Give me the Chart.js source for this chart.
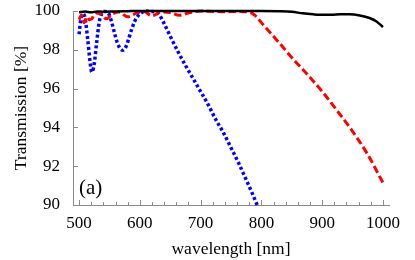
<!DOCTYPE html>
<html>
<head>
<meta charset="utf-8">
<script src="https://cdn.jsdelivr.net/npm/chart.js@4"></script>
<style>
  html, body { margin: 0; padding: 0; background: #fff; }
  #wrap { width: 415px; height: 260px; }
</style>
</head>
<body>
<div id="wrap"><canvas id="c" width="415" height="260"></canvas></div>
<script>
// tick labels
var xTicks = [500, 600, 700, 800, 900, 1000];
var yTicks = [90, 92, 94, 96, 98, 100];

// black solid curve
var blackX = [500, 510, 520, 530, 540, 560, 580, 600, 650, 700, 750, 800, 830, 850, 868, 885, 896, 915, 930, 945, 962, 978, 990, 1000];
var blackY = [99.93, 99.97, 99.93, 99.98, 99.96, 99.98, 99.99, 100, 100, 100, 100, 100, 99.99, 99.96, 99.88, 99.83, 99.81, 99.81, 99.83, 99.83, 99.77, 99.64, 99.45, 99.17];

// red dashed curve
var redX = [500, 504, 508, 513, 517, 521, 527, 535, 545, 555, 565, 580, 595, 607, 620, 635, 650, 665, 680, 700, 720, 740, 760, 775, 785, 792, 800, 814, 831, 850, 875, 900, 925, 950, 975, 1000];
var redY = [99.55, 99.8, 99.4, 99.7, 99.55, 99.6, 99.9, 99.85, 99.6, 99.85, 99.95, 99.7, 99.9, 99.97, 99.75, 99.95, 99.92, 99.78, 99.9, 100, 99.98, 99.96, 99.98, 99.96, 99.88, 99.7, 99.4, 98.9, 98.3, 97.6, 96.75, 95.85, 94.85, 93.8, 92.6, 91.15];

// blue dotted curve
var blueX = [500, 503, 507, 510, 514, 518, 521, 525, 529, 533, 537, 542, 548, 553, 558, 563, 568, 572, 577, 582, 587, 592, 597, 603, 610, 618, 626, 632, 640, 650, 662, 675, 688, 700, 712, 725, 738, 750, 762, 775, 785, 793];
var blueY = [98.8, 99.6, 99.85, 99.6, 98.6, 97.4, 96.85, 97.3, 98.4, 99.4, 99.85, 99.98, 99.9, 99.5, 98.9, 98.35, 98.05, 97.98, 98.15, 98.6, 99.1, 99.5, 99.75, 99.92, 100, 99.98, 99.95, 99.8, 99.35, 98.7, 97.95, 97.2, 96.5, 95.85, 95.2, 94.4, 93.7, 92.95, 92.2, 91.3, 90.6, 90.0];

function pts(xs, ys) {
    return xs.map(function(x, i) { return { x: x, y: ys[i] }; });
}

var serif = '"Liberation Serif", "DejaVu Serif", serif';
var axisColor = '#8a8a8a';

// inward tick marks, minor ticks and the panel label
var decor = {
    id: 'decor',
    afterDraw: function(chart) {
        var ctx = chart.ctx;
        var xs = chart.scales.x, ys = chart.scales.y;
        var y0 = ys.getPixelForValue(90);
        var x0 = xs.left;
        ctx.save();
        ctx.strokeStyle = axisColor;
        ctx.lineWidth = 1;
        ctx.beginPath();
        for (var v = 500; v <= 1000; v += 20) {
            var px = Math.round(xs.getPixelForValue(v)) + 0.5;
            var len = (v % 100 === 0) ? 5 : 3;
            ctx.moveTo(px, y0);
            ctx.lineTo(px, y0 - len);
        }
        yTicks.forEach(function(w) {
            var py = Math.round(ys.getPixelForValue(w)) + 0.5;
            ctx.moveTo(x0, py);
            ctx.lineTo(x0 + 5, py);
        });
        ctx.stroke();
        ctx.fillStyle = '#000';
        ctx.font = '21px ' + serif;
        ctx.textBaseline = 'middle';
        ctx.textAlign = 'left';
        ctx.fillText('(a)', 79, 188);
        ctx.restore();
    }
};

new Chart(document.getElementById('c'), {
    type: 'line',
    data: {
        datasets: [
            {
                data: pts(blackX, blackY),
                borderColor: '#000000',
                borderWidth: 2.5,
                pointRadius: 0,
                cubicInterpolationMode: 'monotone',
                clip: false
            },
            {
                data: pts(redX, redY),
                borderColor: '#ff0000',
                borderWidth: 3,
                borderDash: [7.5, 3.5],
                pointRadius: 0,
                cubicInterpolationMode: 'monotone',
                clip: false
            },
            {
                data: pts(blueX, blueY),
                borderColor: '#0000ff',
                borderWidth: 3.5,
                borderDash: [3, 2.5],
                pointRadius: 0,
                cubicInterpolationMode: 'monotone',
                clip: false
            }
        ]
    },
    options: {
        responsive: false,
        animation: false,
        layout: { padding: { left: 0, right: 26, top: 11, bottom: 0 } },
        plugins: { legend: { display: false }, tooltip: { enabled: false } },
        scales: {
            x: {
                type: 'linear',
                min: 490,
                max: 1010,
                afterBuildTicks: function(s) { s.ticks = xTicks.map(function(v) { return { value: v }; }); },
                afterFit: function(s) { s.height = 55; },
                grid: { display: false },
                border: { display: true, color: axisColor, width: 1 },
                ticks: {
                    color: '#000',
                    font: { family: serif, size: 17 },
                    padding: 0,
                    maxRotation: 0,
                    autoSkip: false,
                    callback: function(v) { return String(v); }
                },
                title: {
                    display: true,
                    text: 'wavelength [nm]',
                    color: '#000',
                    font: { family: serif, size: 17.5 },
                    padding: { top: 0, bottom: 0 }
                }
            },
            y: {
                type: 'linear',
                min: 90,
                max: 100,
                afterBuildTicks: function(s) { s.ticks = yTicks.map(function(v) { return { value: v }; }); },
                afterFit: function(s) { s.width = 73; s.paddingTop = 0; s.paddingBottom = 0; },
                grid: { display: false },
                border: { display: true, color: axisColor, width: 1 },
                ticks: {
                    color: '#000',
                    font: { family: serif, size: 17 },
                    padding: 5,
                    callback: function(v) { return String(v); }
                },
                title: {
                    display: true,
                    text: 'Transmission [%]',
                    color: '#000',
                    font: { family: serif, size: 17.5 },
                    padding: { top: 11, bottom: 0 }
                }
            }
        }
    },
    plugins: [decor]
});
</script>
</body>
</html>
